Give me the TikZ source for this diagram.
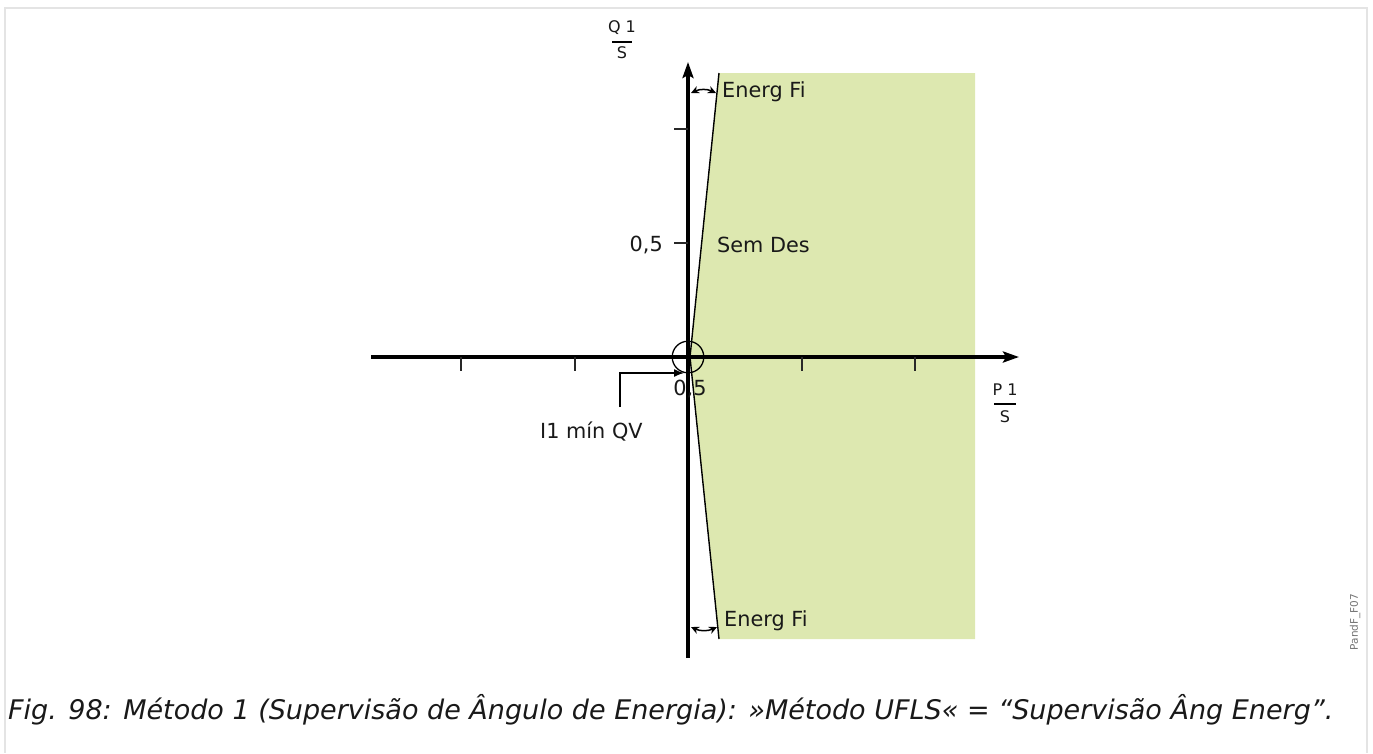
\documentclass[tikz,border=0pt]{standalone}
\usepackage{fontspec}
\setmainfont{DejaVu Sans}
\usetikzlibrary{arrows.meta}
\definecolor{zone}{RGB}{221,232,176}
\definecolor{frame}{RGB}{228,228,228}
\definecolor{tickc}{RGB}{40,40,40}
\begin{document}
\begin{tikzpicture}[x=1pt,y=-1pt,
  lbl/.style={font=\fontsize{20.8}{24}\selectfont, inner sep=0pt, text=black!90},
  frac/.style={font=\fontsize{16}{18}\selectfont, inner sep=0pt, text=black!90},
  axis/.style={line width=3.2pt, -{Stealth[length=16pt,width=11pt,inset=3pt]}},
  tickm/.style={line width=1.5pt, draw=tickc},
  bound/.style={line width=1.4pt, draw=black},
  angarr/.style={line width=1.5pt, {Stealth[length=8pt,width=7.5pt]}-{Stealth[length=8pt,width=7.5pt]}}
]
\useasboundingbox (0,0) rectangle (1373,753);
% frame
\draw[frame, line width=2pt] (5,753) -- (5,8) -- (1367,8) -- (1367,753);
% coordinates
\coordinate (O) at (690,357);
\coordinate (pt) at (719,73);
\coordinate (pb) at (719,639);
\coordinate (rt) at (975,73);
\coordinate (rb) at (975,639);
% green zone
\fill[zone] (pt) -- (rt) -- (rb) -- (pb) -- (O) -- cycle;
\draw[bound] (pt) -- (O) -- (pb);
% axes
\coordinate (xl) at (371,357);
\coordinate (xr) at (1019,357);
\coordinate (yb) at (688,658);
\coordinate (yt) at (688,62);
\draw[axis] (xl) -- (xr);
\draw[axis] (yb) -- (yt);
% ticks x
\foreach \x/\n in {461/a,575/b,802/c,915/d}{
  \coordinate (tx\n) at (\x,357);
  \draw[tickm] (tx\n) -- ++(0,14);
}
% ticks y
\coordinate (ty1) at (688,129);
\coordinate (ty2) at (688,243);
\draw[tickm] (ty1) -- ++(-14,0);
\draw[tickm] (ty2) -- ++(-14,0);
% circle
\draw[line width=1.3pt] (688,357) circle[radius=15.8];
% labels
\node[lbl, anchor=base west] (e1) at (722,97) {Energ Fi};
\node[lbl, anchor=base west] (e2) at (724,626) {Energ Fi};
\node[lbl, anchor=base west] (sd) at (717,252) {Sem Des};
\node[lbl, anchor=base east] (h5) at (663,251) {0,5};
\node[lbl, anchor=base] (o5) at (690,395) {0,5};
\node[lbl, anchor=base west] (imin) at (540,438) {I1 mín QV};
% angle arcs
\coordinate (a1) at (691,93);
\coordinate (a2) at (716,93);
\draw[angarr] (a1) to[bend left=25] (a2);
\coordinate (b1) at (691,627);
\coordinate (b2) at (717,627);
\draw[angarr] (b1) to[bend right=25] (b2);
% leader
\coordinate (ls) at (620,407);
\coordinate (lt) at (684,373);
\draw[line width=1.4pt, -{Latex[length=10pt,width=8pt]}] (ls) |- (lt);
% fractions
\node[frac] (q1) at (622,28) {Q 1};
\node[frac] (qs) at (622,53) {S};
\draw[line width=1.4pt] (612,42) -- (632,42);
\node[frac] (p1) at (1005,390) {P 1};
\node[frac] (ps) at (1005,416.5) {S};
\draw[line width=1.4pt] (994,404) -- (1016,404);
% side code
\node[font=\fontsize{10.5}{12}\selectfont, text=black!55, rotate=90, inner sep=0pt] (code) at (1355,622) {PandF\_F07};
% caption
\node[font=\fontsize{27}{31}\selectfont\itshape, anchor=base west, inner sep=0pt, text=black!90] (cap) at (8,719) {Fig. 98: Método 1 (Supervisão de Ângulo de Energia): »Método UFLS« = “Supervisão Âng Energ”.};
\end{tikzpicture}
\end{document}
